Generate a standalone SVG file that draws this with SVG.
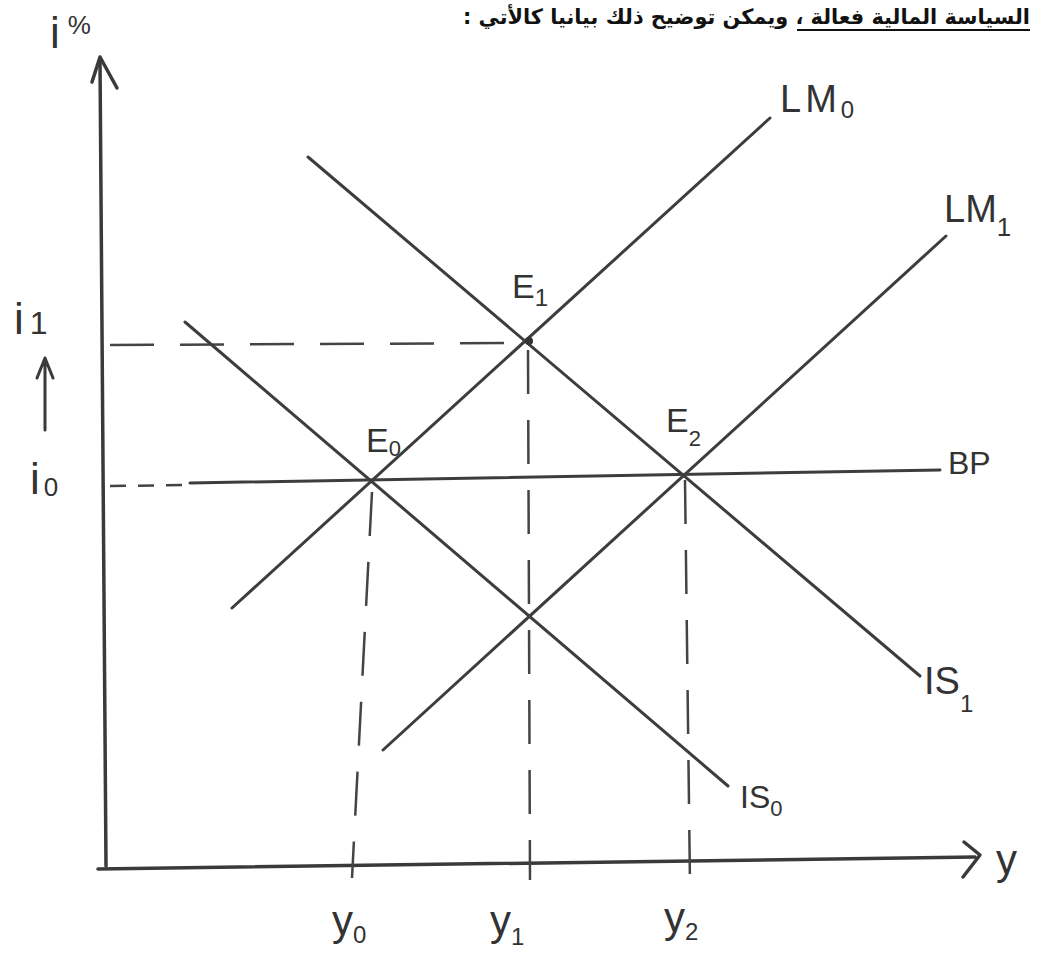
<svg xmlns="http://www.w3.org/2000/svg" width="1040" height="956" viewBox="0 0 1040 956">
<style>
.ln{stroke:#3d3d3d;stroke-width:3;fill:none;stroke-linecap:round}
.ax{stroke:#3a3a3a;stroke-width:3.5;fill:none;stroke-linecap:round;stroke-linejoin:round}
.dsh{stroke:#444;stroke-width:2.5;fill:none;stroke-dasharray:44 26}
.dss{stroke:#444;stroke-width:2.5;fill:none;stroke-dasharray:16 12}
.lb{font-family:"Liberation Sans","DejaVu Sans",sans-serif;fill:#333}
.hd{font-family:"DejaVu Sans","Noto Sans",sans-serif;font-weight:bold;font-size:21px;fill:#111}
</style>
<rect width="1040" height="956" fill="#fff"/>
<g id="header">
<text class="hd" x="1030" y="24" direction="rtl" text-anchor="start" textLength="567" lengthAdjust="spacingAndGlyphs">السياسة المالية فعالة ، ويمكن توضيح ذلك بيانيا كالأتي :</text>
<line x1="797" y1="30" x2="1030" y2="30" stroke="#111" stroke-width="1.8"/>
</g>
<g id="axes">
<path class="ax" d="M100 60 L106 866"/>
<path class="ax" d="M92 82 L100 57 L117 88"/>
<path class="ax" d="M98 869 L975 857"/>
<path class="ax" d="M964 842 L980 855 L963 877"/>
</g>
<g id="connectors">
<g id="guides">
<path class="dsh" d="M110 345 L528 343"/>
<path class="dss" d="M110 486 L192 485"/>
<path class="dsh" d="M372 492 L352 878"/>
<path class="dsh" d="M528 350 L530 880"/>
<path class="dsh" d="M685 480 L690 885"/>
</g>
<g id="curve-BP"><path class="ln" d="M190 483 L940 470"/></g>
<g id="curve-LM0"><path class="ln" d="M232 608 L770 118"/></g>
<g id="curve-LM1"><path class="ln" d="M383 750 L946 236"/></g>
<g id="curve-IS0"><path class="ln" d="M185 322 L728 786"/></g>
<g id="curve-IS1"><path class="ln" d="M308 157 L920 676"/></g>
<g id="up-arrow"><path class="ax" d="M45 430 L45 360 M37 378 L45 358 L53 378" style="stroke-width:3"/></g>
</g>
<g id="point-E1"><circle cx="529" cy="341" r="4" fill="#333"/></g>
<g id="labels">
<text class="lb" x="50" y="48" style="font-size:44px">i<tspan dx="8" dy="-14" style="font-size:26px">%</tspan></text>
<text class="lb" x="14" y="334" style="font-size:44px">i<tspan dx="6" style="font-size:32px">1</tspan></text>
<text class="lb" x="30" y="494" style="font-size:44px">i<tspan dx="4" dy="2" style="font-size:26px">0</tspan></text>
<text id="label-E0" class="lb" x="366" y="452" style="font-size:34px">E<tspan dy="4" style="font-size:22px">0</tspan></text>
<text id="label-E1" class="lb" x="512" y="298" style="font-size:34px">E<tspan dy="8" style="font-size:24px">1</tspan></text>
<text id="label-E2" class="lb" x="666" y="432" style="font-size:34px">E<tspan dy="14" style="font-size:22px">2</tspan></text>
<text id="label-LM0" class="lb" x="780" y="112" letter-spacing="4" style="font-size:38px">LM<tspan dy="6" letter-spacing="0" style="font-size:24px">0</tspan></text>
<text id="label-LM1" class="lb" x="944" y="222" style="font-size:38px">LM<tspan dy="14" style="font-size:26px">1</tspan></text>
<text id="label-BP" class="lb" x="948" y="474" style="font-size:32px">BP</text>
<text id="label-IS1" class="lb" x="924" y="694" style="font-size:38px">IS<tspan dy="18" style="font-size:24px">1</tspan></text>
<text id="label-IS0" class="lb" x="740" y="808" style="font-size:32px">IS<tspan dy="8" style="font-size:22px">0</tspan></text>
<text class="lb" x="996" y="874" style="font-size:42px">y</text>
<text class="lb" x="332" y="935" style="font-size:42px">y<tspan dy="8" style="font-size:24px">0</tspan></text>
<text class="lb" x="490" y="935" style="font-size:42px">y<tspan dy="10" style="font-size:24px">1</tspan></text>
<text class="lb" x="664" y="932" style="font-size:42px">y<tspan dy="8" style="font-size:24px">2</tspan></text>
</g>
</svg>
